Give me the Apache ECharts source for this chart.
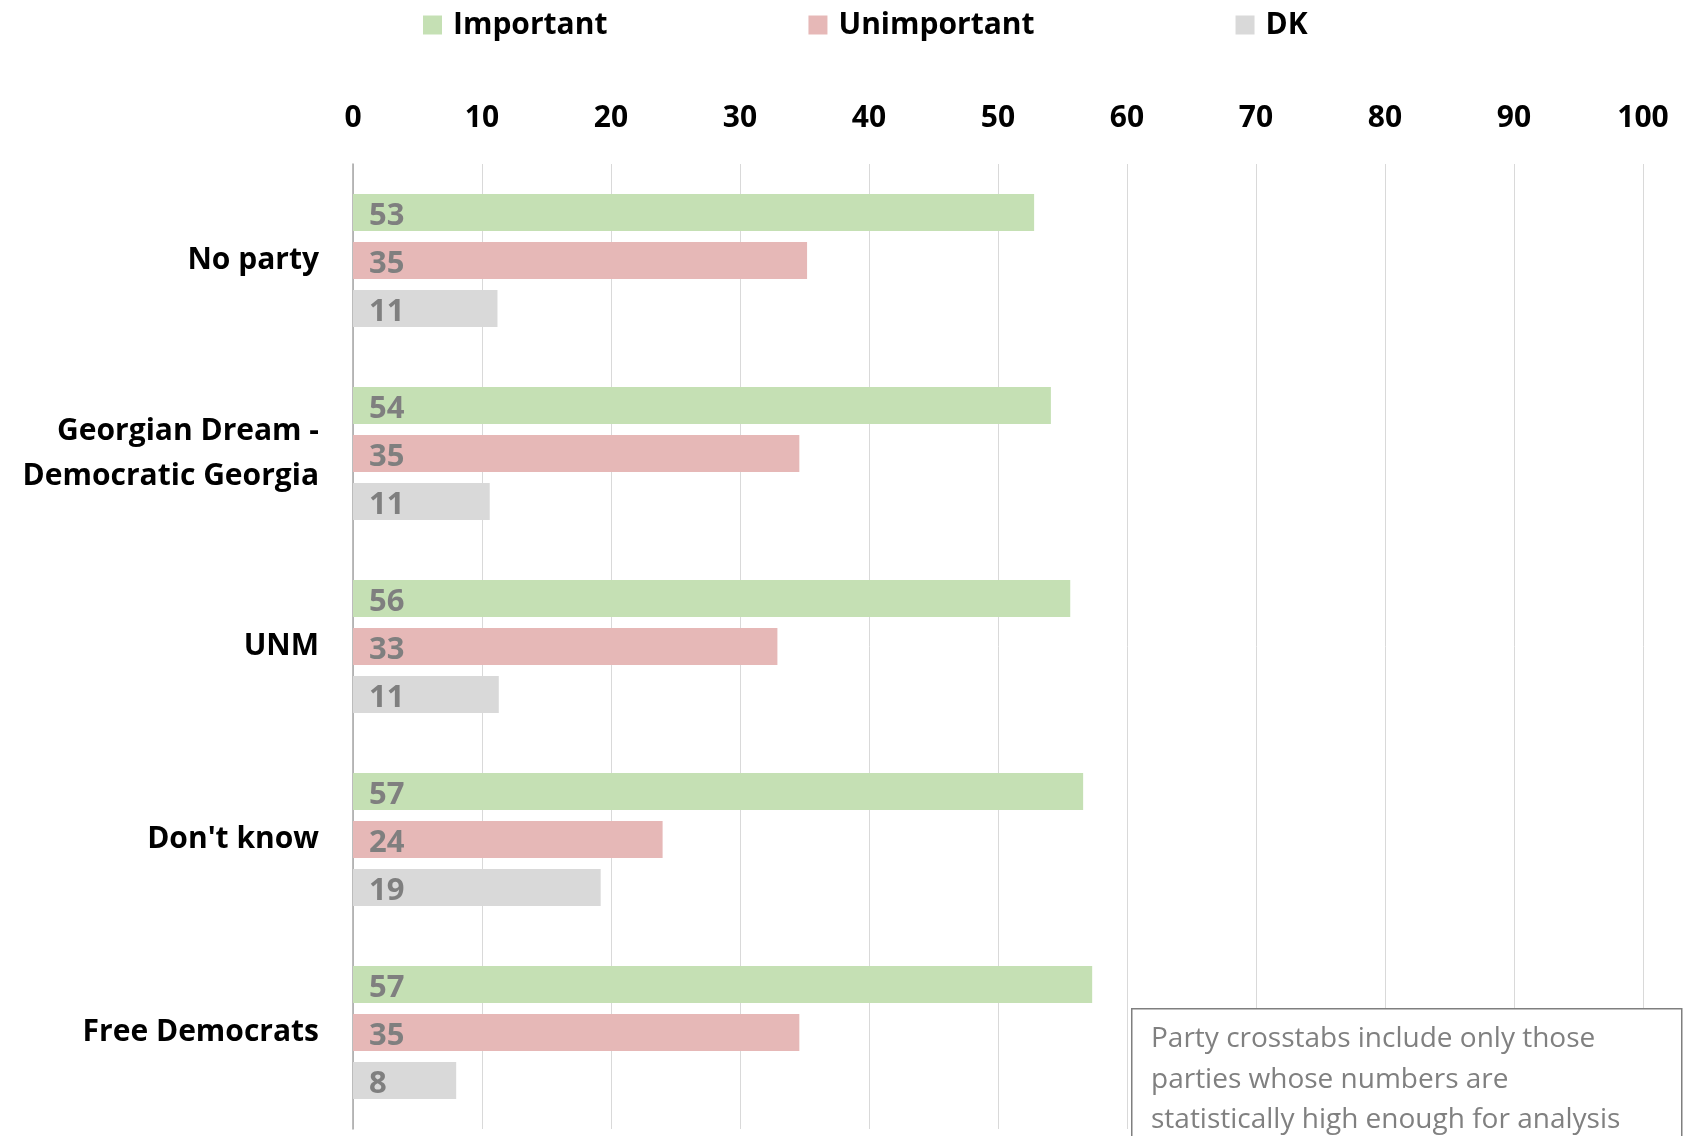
<!DOCTYPE html>
<html>
<head>
<meta charset="utf-8">
<script src="https://cdn.jsdelivr.net/npm/echarts@6/dist/echarts.min.js"></script>
<style>
html,body{margin:0;padding:0;background:#fff;}
#chart{width:1688px;height:1136px;}
</style>
</head>
<body>
<div id="chart"></div>
<script>
const categories = ['No party', 'Georgian Dream -\nDemocratic Georgia', 'UNM', "Don't know", 'Free Democrats'];
const important = [52.8, 54.1, 55.6, 56.6, 57.3];
const unimportant = [35.2, 34.6, 32.9, 24.0, 34.6];
const dk = [11.2, 10.6, 11.3, 19.2, 8.0];
const xTicks = [0, 10, 20, 30, 40, 50, 60, 70, 80, 90, 100];
const seriesNames = ['Important', 'Unimportant', 'DK'];
const colors = ['#c5e0b4', '#e6b8b7', '#d9d9d9'];
const noteText = 'Party crosstabs include only those\nparties whose numbers are\nstatistically high enough for analysis';

const FONT = 'Open Sans';
const chart = echarts.init(document.getElementById('chart'), null, {renderer: 'canvas'});

function mkSeries(name, data, color) {
  return {
    name: name,
    type: 'bar',
    data: data,
    barWidth: 37,
    barGap: '30%',
    itemStyle: {color: color},
    label: {
      show: true,
      position: 'insideLeft',
      distance: 16,
      offset: [0, 4],
      color: '#7f7f7f',
      fontFamily: FONT,
      fontWeight: 'bold',
      fontSize: 31,
      formatter: p => String(Math.round(p.value))
    }
  };
}

chart.setOption({
  animation: false,
  backgroundColor: '#fff',
  color: colors,
  legend: {
    top: 5,
    left: 418,
    icon: 'rect',
    itemWidth: 19,
    itemHeight: 19,
    itemGap: 201,
    data: seriesNames,
    textStyle: {fontFamily: FONT, fontWeight: 'bold', fontSize: 30, color: '#000', padding: [0, 0, 0, 6]}
  },
  grid: {left: 353, right: 45, top: 164, bottom: 7, containLabel: false},
  xAxis: {
    type: 'value',
    position: 'top',
    min: 0,
    max: 100,
    interval: 10,
    axisLine: {show: false},
    axisTick: {show: false},
    splitLine: {show: true, lineStyle: {color: '#d9d9d9', width: 1}},
    axisLabel: {
      margin: 31,
      fontFamily: FONT, fontWeight: 'bold', fontSize: 30, color: '#000',
      formatter: v => xTicks.includes(v) ? String(v) : ''
    }
  },
  yAxis: {
    type: 'category',
    data: categories,
    inverse: true,
    axisLine: {show: true, lineStyle: {color: '#a6a6a6', width: 1.5}},
    axisTick: {show: false},
    axisLabel: {
      margin: 34,
      fontFamily: FONT, fontWeight: 'bold', fontSize: 30, color: '#000',
      align: 'right', lineHeight: 45
    }
  },
  series: [
    mkSeries(seriesNames[0], important, colors[0]),
    mkSeries(seriesNames[1], unimportant, colors[1]),
    mkSeries(seriesNames[2], dk, colors[2])
  ],
  graphic: [
    {
      type: 'rect',
      left: 1131, top: 1008,
      shape: {width: 550, height: 160},
      style: {fill: '#fff', stroke: '#7f7f7f', lineWidth: 1.5},
      z: 100
    },
    {
      type: 'text',
      left: 1151, top: 1019,
      style: {text: noteText, fill: '#808080', fontFamily: FONT, fontSize: 28, lineHeight: 40.5},
      z: 101
    }
  ]
});
</script>
</body>
</html>
